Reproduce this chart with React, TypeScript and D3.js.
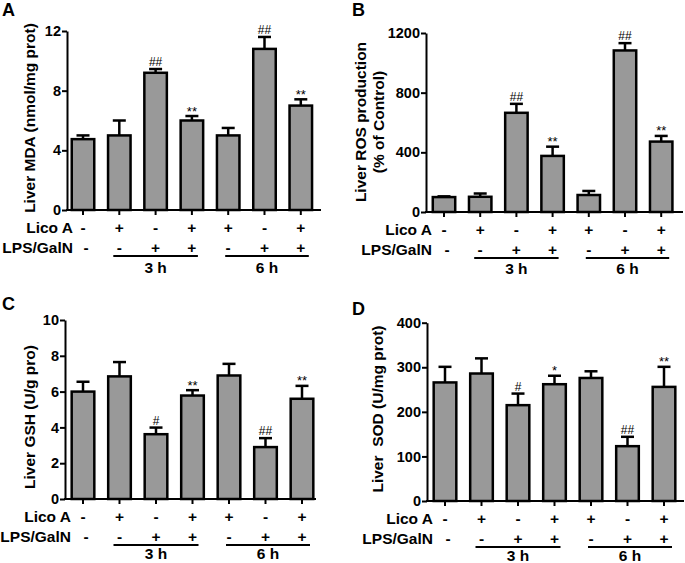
import * as d3 from 'd3';
import React, { FC, useEffect, useRef } from 'react';

// treatment groups, left to right
const groups = ['Control', 'Lico A', 'LPS/GalN 3h', 'Lico A + LPS/GalN 3h', 'Lico A 6h', 'LPS/GalN 6h', 'Lico A + LPS/GalN 6h'];
const licoA = ['-', '+', '-', '+', '+', '-', '+'];
const lpsGalN = ['-', '-', '+', '+', '-', '+', '+'];
const hourLabels = ['3 h', '6 h'];

// A: MDA
const mdaMean = [4.75, 5.0, 9.2, 6.0, 5.0, 10.8, 7.0];
const mdaErr = [0.25, 1.0, 0.25, 0.3, 0.5, 0.8, 0.42];
const mdaMarks = ['', '', '##', '**', '', '##', '**'];
const mdaTicks = [0, 4, 8, 12];

// B: ROS
const rosMean = [100, 102, 665, 376, 114, 1083, 472];
const rosErr = [5, 22, 60, 62, 27, 49, 38];
const rosMarks = ['', '', '##', '**', '', '##', '**'];
const rosTicks = [0, 400, 800, 1200];

// C: GSH
const gshMean = [6.0, 6.85, 3.62, 5.78, 6.9, 2.9, 5.6];
const gshErr = [0.55, 0.8, 0.37, 0.3, 0.65, 0.5, 0.72];
const gshMarks = ['', '', '#', '**', '', '##', '**'];
const gshTicks = [0, 2, 4, 6, 8, 10];

// D: SOD
const sodMean = [266, 286, 215, 262, 276, 123, 256];
const sodErr = [35, 34, 26, 19, 15, 21, 45];
const sodMarks = ['', '', '#', '*', '', '##', '**'];
const sodTicks = [0, 100, 200, 300, 400];

interface Panel {
  letter: string;
  letterX: number;
  letterY: number;
  means: number[];
  errs: number[];
  marks: string[];
  ticks: number[];
  yLabel: string[];
  labelX: number[];
  labelY: number;
  x0: number;
  xEnd: number;
  y0: number;
  yTop: number;
  c0: number;
  step: number;
  hourY: number;
}

const panels: Panel[] = [
  {
    letter: 'A', letterX: 2, letterY: 16,
    means: mdaMean, errs: mdaErr, marks: mdaMarks, ticks: mdaTicks,
    yLabel: ['Liver MDA (nmol/mg prot)'], labelX: [29], labelY: 118,
    x0: 67, xEnd: 321, y0: 210, yTop: 31, c0: 83, step: 36.3, hourY: 57
  },
  {
    letter: 'B', letterX: 352, letterY: 16,
    means: rosMean, errs: rosErr, marks: rosMarks, ticks: rosTicks,
    yLabel: ['Liver ROS production', '(% of Control)'], labelX: [360, 378], labelY: 122,
    x0: 426, xEnd: 683, y0: 212, yTop: 33, c0: 444, step: 36.2, hourY: 56
  },
  {
    letter: 'C', letterX: 2, letterY: 310,
    means: gshMean, errs: gshErr, marks: gshMarks, ticks: gshTicks,
    yLabel: ['Liver GSH (U/g pro)'], labelX: [29], labelY: 417,
    x0: 65, xEnd: 316, y0: 499, yTop: 320, c0: 83, step: 36.5, hourY: 54
  },
  {
    letter: 'D', letterX: 352, letterY: 315,
    means: sodMean, errs: sodErr, marks: sodMarks, ticks: sodTicks,
    yLabel: ['Liver  SOD (U/mg prot)'], labelX: [377], labelY: 409,
    x0: 427, xEnd: 684, y0: 501, yTop: 322.7, c0: 445, step: 36.5, hourY: 54
  }
];

const FONT = 'Arial, "Liberation Sans", sans-serif';
const FS = 15.5;

const drawPanel = (svg: d3.Selection<SVGSVGElement, unknown, null, undefined>, p: Panel) => {
  const g = svg.append('g');
  const idx = d3.range(groups.length);

  const x = d3
    .scaleBand<number>()
    .domain(idx)
    .range([p.c0 - p.step / 2, p.c0 + (groups.length - 0.5) * p.step])
    .paddingInner(0.38)
    .paddingOuter(0.19);
  const bw = x.bandwidth();
  const cx = (i: number) => (x(i) as number) + bw / 2;

  const y = d3.scaleLinear().domain([0, p.ticks[p.ticks.length - 1]]).range([p.y0, p.yTop]);

  // panel letter
  g.append('text')
    .attr('x', p.letterX)
    .attr('y', p.letterY)
    .attr('font-family', FONT)
    .attr('font-weight', 'bold')
    .attr('font-size', 18)
    .text(p.letter);

  // error bars
  idx.forEach((i) => {
    const top = y(p.means[i] + p.errs[i]);
    g.append('line')
      .attr('x1', cx(i)).attr('x2', cx(i))
      .attr('y1', y(p.means[i])).attr('y2', top)
      .attr('stroke', '#000').attr('stroke-width', 2.5);
    g.append('line')
      .attr('x1', cx(i) - 6.5).attr('x2', cx(i) + 6.5)
      .attr('y1', top).attr('y2', top)
      .attr('stroke', '#000').attr('stroke-width', 2.5);
    if (p.marks[i]) {
      const star = p.marks[i].startsWith('*');
      g.append('text')
        .attr('x', cx(i))
        .attr('y', star ? top - 0.5 : top - 3)
        .attr('text-anchor', 'middle')
        .attr('font-family', FONT)
        .attr('font-size', star ? 13 : 12)
        .text(p.marks[i]);
    }
  });

  // bars
  g.selectAll('rect.bar')
    .data(idx)
    .enter()
    .append('rect')
    .attr('class', 'bar')
    .attr('x', (i) => x(i) as number)
    .attr('width', bw)
    .attr('y', (i) => y(p.means[i]))
    .attr('height', (i) => p.y0 - y(p.means[i]))
    .attr('fill', '#999999')
    .attr('stroke', '#000')
    .attr('stroke-width', 2.5);

  // y axis
  const yAxis = g
    .append('g')
    .attr('transform', `translate(${p.x0},0)`)
    .call(
      d3
        .axisLeft(y)
        .tickValues(p.ticks)
        .tickFormat(d3.format('d'))
        .tickSize(5)
        .tickSizeOuter(0)
        .tickPadding(1)
    );
  yAxis.select('.domain').attr('stroke-width', 2);
  yAxis.selectAll('.tick line').attr('stroke-width', 2);
  yAxis
    .selectAll('.tick text')
    .attr('font-family', FONT)
    .attr('font-weight', 'bold')
    .attr('font-size', 14.5)
    .attr('fill', '#000');

  // x axis baseline + ticks
  g.append('line')
    .attr('x1', p.x0 - 1).attr('x2', p.xEnd)
    .attr('y1', p.y0).attr('y2', p.y0)
    .attr('stroke', '#000').attr('stroke-width', 2);
  const xAxis = g
    .append('g')
    .attr('transform', `translate(0,${p.y0})`)
    .call(d3.axisBottom(x).tickSize(5).tickFormat(() => ''));
  xAxis.select('.domain').remove();
  xAxis.selectAll('.tick line').attr('stroke-width', 2);

  // treatment rows
  const rows: [string, string[], number][] = [
    ['Lico A', licoA, 17],
    ['LPS/GalN', lpsGalN, 37]
  ];
  rows.forEach(([name, signs, dy]) => {
    g.append('text')
      .attr('x', p.x0 + 6)
      .attr('y', p.y0 + dy)
      .attr('text-anchor', 'end')
      .attr('dominant-baseline', 'central')
      .attr('font-family', FONT)
      .attr('font-weight', 'bold')
      .attr('font-size', FS)
      .text(name);
    idx.forEach((i) => {
      g.append('text')
        .attr('x', cx(i) + (i === 0 && name === 'LPS/GalN' ? 3 : 0))
        .attr('y', p.y0 + dy)
        .attr('text-anchor', 'middle')
        .attr('dominant-baseline', 'central')
        .attr('font-family', FONT)
        .attr('font-weight', 'bold')
        .attr('font-size', FS)
        .text(signs[i]);
    });
  });

  // time groups
  const spans: [number, number, number, number][] = [
    [1, 3, -6, 6],
    [4, 6, -3, 8]
  ];
  spans.forEach(([a, b, l, r], k) => {
    const xa = cx(a) + l;
    const xb = cx(b) + r;
    g.append('line')
      .attr('x1', xa).attr('x2', xb)
      .attr('y1', p.y0 + 46).attr('y2', p.y0 + 46)
      .attr('stroke', '#000').attr('stroke-width', 2);
    g.append('text')
      .attr('x', (xa + xb) / 2)
      .attr('y', p.y0 + p.hourY)
      .attr('text-anchor', 'middle')
      .attr('dominant-baseline', 'central')
      .attr('font-family', FONT)
      .attr('font-weight', 'bold')
      .attr('font-size', FS)
      .text(hourLabels[k]);
  });

  // y label
  p.yLabel.forEach((line, k) => {
    g.append('text')
      .attr('transform', `translate(${p.labelX[k]},${p.labelY}) rotate(-90)`)
      .attr('text-anchor', 'middle')
      .attr('dominant-baseline', 'central')
      .attr('font-family', FONT)
      .attr('font-weight', 'bold')
      .attr('font-size', FS)
      .style('white-space', 'pre')
      .text(line);
  });
};

const App: FC = (): JSX.Element => {
  const ref = useRef<SVGSVGElement>(null);

  useEffect(() => {
    document.body.style.margin = '0';
    const svg = d3.select(ref.current as SVGSVGElement);
    svg.selectAll('*').remove();
    panels.forEach((p) => drawPanel(svg, p));
  }, []);

  return <svg ref={ref} width={685} height={563} style={{ display: 'block', background: '#fff' }} />;
};

export default App;
